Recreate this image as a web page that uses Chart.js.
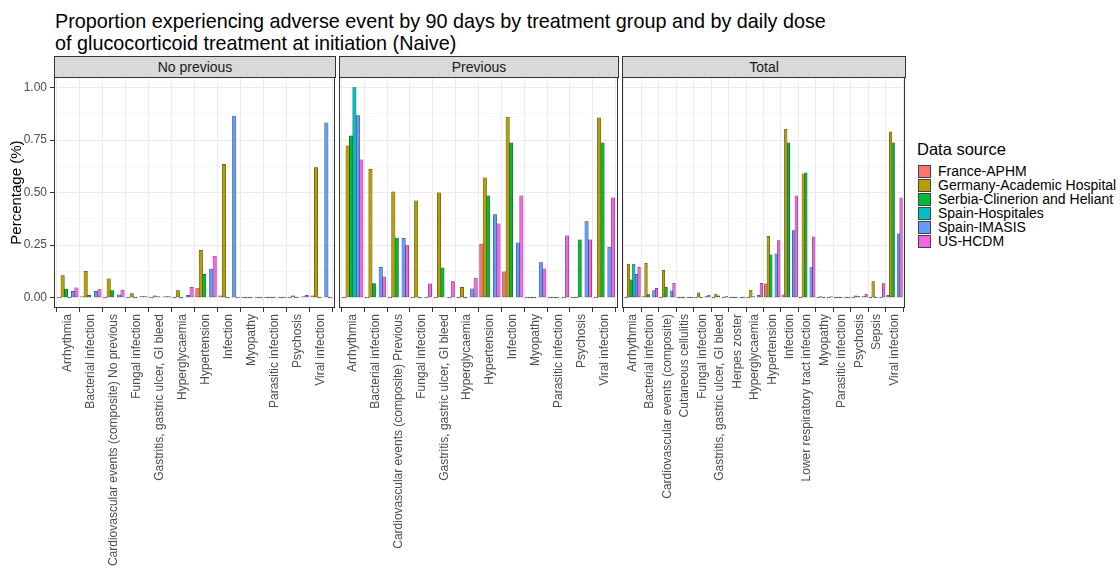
<!DOCTYPE html>
<html>
<head>
<meta charset="utf-8">
<script src="https://cdn.jsdelivr.net/npm/chart.js@4.4.1/dist/chart.umd.min.js"></script>
<style>
  html, body { margin: 0; padding: 0; background: #fff; }
  body { width: 1120px; height: 577px; position: relative; overflow: hidden;
         font-family: "Liberation Sans", Arial, sans-serif; }
  .title { position: absolute; left: 55px; top: 10px; font-size: 19.8px; line-height: 22px;
           color: #000; white-space: nowrap; }
  .strip { position: absolute; top: 56px; height: 22px; box-sizing: border-box;
           background: #D9D9D9; border: 1px solid #333; color: #1A1A1A;
           font-size: 14px; line-height: 20px; text-align: center; }
  canvas { position: absolute; top: 67px; }
  .legend { position: absolute; left: 917px; top: 139px; }
  .legend .ltitle { font-size: 16.5px; line-height: 20px; color: #000; margin-bottom: 5px; }
  .legend .row { height: 14px; display: flex; align-items: center; }
  .legend .key { width: 13px; height: 13px; box-sizing: border-box; border: 1px solid #444;
                 margin-left: 1px; margin-right: 7px; }
  .legend .lab { font-size: 14px; line-height: 14px; color: #000; white-space: nowrap; }
</style>
</head>
<body>
<div class="title">Proportion experiencing adverse event by 90 days by treatment group and by daily dose<br>of glucocorticoid treatment at initiation (Naive)</div>
<div class="strip" style="left:54px;width:282px;">No previous</div>
<div class="strip" style="left:339px;width:280px;">Previous</div>
<div class="strip" style="left:622px;width:284px;">Total</div>
<canvas id="p1" width="345" height="507" style="left:0px"></canvas>
<canvas id="p2" width="299" height="507" style="left:329px"></canvas>
<canvas id="p3" width="303" height="507" style="left:612px"></canvas>
<div class="legend" id="legend"></div>

<script>
// Data sources (fill order within each category)
const sources = ['France-APHM', 'Germany-Academic Hospital', 'Serbia-Clinerion and Heliant',
                 'Spain-Hospitales', 'Spain-IMASIS', 'US-HCDM'];
const sourceColors = ['#F8766D', '#B79F00', '#00BA38', '#00BFC4', '#619CFF', '#F564E3'];

// Adverse events per facet
const catsNoPrevious = ['Arrhythmia', 'Bacterial infection', 'Cardiovascular events (composite) No previous',
  'Fungal infection', 'Gastritis, gastric ulcer, GI bleed', 'Hyperglycaemia', 'Hypertension',
  'Infection', 'Myopathy', 'Parasitic infection', 'Psychosis', 'Viral infection'];
const catsPrevious = ['Arrhythmia', 'Bacterial infection', 'Cardiovascular events (composite) Previous',
  'Fungal infection', 'Gastritis, gastric ulcer, GI bleed', 'Hyperglycaemia', 'Hypertension',
  'Infection', 'Myopathy', 'Parasitic infection', 'Psychosis', 'Viral infection'];
const catsTotal = ['Arrhythmia', 'Bacterial infection', 'Cardiovascular events (composite)',
  'Cutaneous cellulitis', 'Fungal infection', 'Gastritis, gastric ulcer, GI bleed', 'Herpes zoster',
  'Hyperglycaemia', 'Hypertension', 'Infection', 'Lower respiratory tract infection', 'Myopathy',
  'Parasitic infection', 'Psychosis', 'Sepsis', 'Viral infection'];

// Proportions, No previous
const franceNoPrevious  = [0, 0.003, 0, 0, 0, 0, 0.043, 0.008, 0, 0, 0, 0.008];
const germanyNoPrevious = [0.105, 0.125, 0.089, 0.019, 0.008, 0.033, 0.225, 0.635, 0, 0, 0.008, 0.619];
const serbiaNoPrevious  = [0.040, 0.011, 0.033, 0, 0.003, 0, 0.111, 0, 0, 0, 0, 0];
const hospNoPrevious    = [0, null, null, null, null, null, null, null, null, null, null, null];
const imasisNoPrevious  = [0.029, 0.029, 0.013, 0.006, 0.004, 0.010, 0.136, 0.865, 0, 0, 0.004, 0.833];
const usNoPrevious      = [0.046, 0.038, 0.035, 0.006, 0.006, 0.049, 0.198, 0, 0, 0, 0.010, 0];

// Proportions, Previous
const francePrevious  = [0, 0, 0, 0, 0, 0, 0.254, 0.122, 0, 0, 0, 0];
const germanyPrevious = [0.722, 0.611, 0.503, 0.460, 0.499, 0.048, 0.570, 0.859, 0, 0, 0, 0.856];
const serbiaPrevious  = [0.770, 0.067, 0.283, 0, 0.142, 0, 0.484, 0.737, 0, 0, 0.275, 0.737];
const hospPrevious    = [1.0, null, null, null, null, null, null, null, null, null, null, null];
const imasisPrevious  = [0.867, 0.144, 0.282, 0, 0, 0.042, 0.395, 0.261, 0.167, 0, 0.362, 0.240];
const usPrevious      = [0.656, 0.099, 0.247, 0.065, 0.076, 0.093, 0.351, 0.484, 0.137, 0.294, 0.275, 0.475];

// Proportions, Total
const franceTotal  = [0, 0.003, 0, 0, 0, 0, 0, 0, 0.065, 0.013, 0, 0, 0, 0, 0, 0.010];
const germanyTotal = [0.159, 0.163, 0.130, 0, 0.022, 0.016, 0, 0.035, 0.292, 0.802, 0.589, 0.003, 0, 0.008, 0.076, 0.789];
const serbiaTotal  = [0.084, 0.014, 0.048, 0, 0, 0.008, 0, 0.003, 0.203, 0.737, 0.594, 0, 0, 0.006, 0, 0.737];
const hospTotal    = [0.159, null, null, null, null, null, null, null, null, null, null, null, null, null, null, null];
const imasisTotal  = [0.111, 0.033, 0.032, 0, 0.006, 0, 0, 0.011, 0.208, 0.319, 0.143, 0, 0, 0.006, 0, 0.303];
const usTotal      = [0.144, 0.044, 0.068, 0, 0.010, 0.006, 0, 0.068, 0.271, 0.484, 0.289, 0.003, 0, 0.017, 0.067, 0.475];

// Y axis: major breaks labelled, minor breaks between them
const yBreaks = [0, 0.125, 0.25, 0.375, 0.5, 0.625, 0.75, 0.875, 1.0];
const yLabelled = [0, 0.25, 0.5, 0.75, 1.0];

const FONT = '"Liberation Sans", Arial, sans-serif';

// Frame around each plotting panel
const panelFrame = {
  id: 'panelFrame',
  afterDraw(chart) {
    const a = chart.chartArea, ctx = chart.ctx;
    ctx.save();
    ctx.strokeStyle = '#333';
    ctx.lineWidth = 1;
    ctx.strokeRect(Math.round(a.left) + 0.5, Math.round(a.top) + 0.5,
                   Math.round(a.right - a.left) - 1, Math.round(a.bottom - a.top) - 1);
    ctx.restore();
  }
};

function facet(canvasId, cats, series, showY) {
  const datasets = series.map((vals, k) => ({
    label: sources[k],
    data: vals.map((v, i) => ({ x: i, y: v })),
    backgroundColor: sourceColors[k],
    borderColor: '#333',
    borderWidth: 0.5,
    borderSkipped: false,
    inflateAmount: 0.3,
    minBarLength: 1,
    categoryPercentage: 0.9,
    barPercentage: 1.0
  }));
  return new Chart(document.getElementById(canvasId), {
    type: 'bar',
    data: { datasets },
    plugins: [panelFrame],
    options: {
      responsive: false,
      animation: false,
      events: [],
      layout: { padding: { left: showY ? 0 : 10, right: 10, top: 10, bottom: 0 } },
      plugins: { legend: { display: false }, tooltip: { enabled: false } },
      scales: {
        x: {
          type: 'linear',
          min: -0.6,
          max: cats.length - 0.4,
          bounds: 'data',
          offset: false,
          afterBuildTicks: s => { s.ticks = cats.map((_, i) => ({ value: i })); },
          afterFit: s => { s.height = 266; },
          ticks: {
            autoSkip: false, minRotation: 90, maxRotation: 90, padding: 2,
            color: '#4D4D4D', font: { family: FONT, size: 12 },
            callback: (v, i) => cats[i]
          },
          grid: { color: '#EBEBEB', lineWidth: 1, tickLength: 4, tickColor: '#333', drawTicks: true },
          border: { display: false }
        },
        y: {
          min: -0.05,
          max: 1.05,
          bounds: 'data',
          afterBuildTicks: s => { s.ticks = yBreaks.map(v => ({ value: v })); },
          afterFit: s => { s.width = showY ? 54 : 0; },
          title: {
            display: showY, text: 'Percentage (%)', color: '#000',
            font: { family: FONT, size: 15 }, padding: { top: 8, bottom: 0 }
          },
          ticks: {
            display: showY, padding: 3, color: '#4D4D4D', font: { family: FONT, size: 12 },
            callback: v => yLabelled.includes(v) ? v.toFixed(2) : ''
          },
          grid: {
            color: '#EBEBEB',
            lineWidth: c => (c.tick && yLabelled.includes(c.tick.value)) ? 1 : 0.5,
            drawTicks: showY,
            tickLength: 4,
            tickColor: c => (c.tick && yLabelled.includes(c.tick.value)) ? '#333' : 'rgba(0,0,0,0)'
          },
          border: { display: false }
        }
      }
    }
  });
}

facet('p1', catsNoPrevious,
  [franceNoPrevious, germanyNoPrevious, serbiaNoPrevious, hospNoPrevious, imasisNoPrevious, usNoPrevious], true);
facet('p2', catsPrevious,
  [francePrevious, germanyPrevious, serbiaPrevious, hospPrevious, imasisPrevious, usPrevious], false);
facet('p3', catsTotal,
  [franceTotal, germanyTotal, serbiaTotal, hospTotal, imasisTotal, usTotal], false);

// Legend
const legend = document.getElementById('legend');
const lt = document.createElement('div');
lt.className = 'ltitle';
lt.textContent = 'Data source';
legend.appendChild(lt);
sources.forEach((name, k) => {
  const row = document.createElement('div');
  row.className = 'row';
  const key = document.createElement('div');
  key.className = 'key';
  key.style.background = sourceColors[k];
  const lab = document.createElement('div');
  lab.className = 'lab';
  lab.textContent = name;
  row.appendChild(key);
  row.appendChild(lab);
  legend.appendChild(row);
});
</script>
</body>
</html>
